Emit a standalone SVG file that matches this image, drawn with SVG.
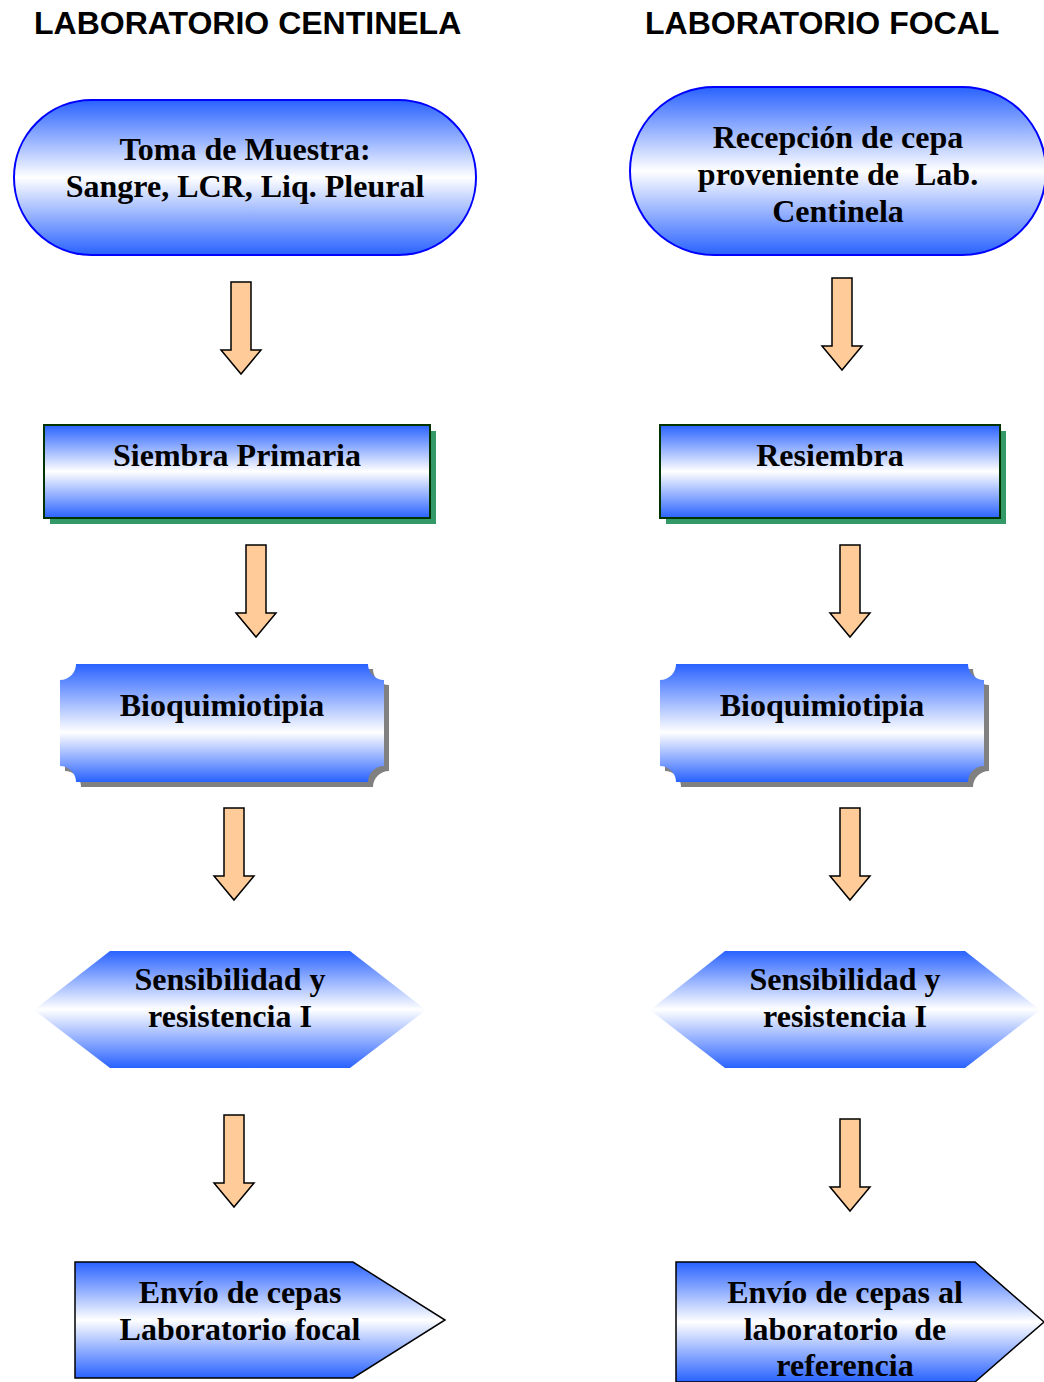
<svg xmlns="http://www.w3.org/2000/svg" xmlns:xlink="http://www.w3.org/1999/xlink" width="1044" height="1382" viewBox="0 0 1044 1382">
<style>
.title{font-family:"Liberation Sans",Arial,sans-serif;font-weight:bold;font-size:32px;fill:#000}
.lbl{font-family:"Liberation Serif","Times New Roman",serif;font-weight:bold;font-size:32px;fill:#000;text-anchor:middle;white-space:pre}
.arrow{fill:#ffcc99;stroke:#000;stroke-width:1.5}
</style>
<defs>
<linearGradient id="g" x1="0" y1="0" x2="0" y2="1">
<stop offset="0" stop-color="#2962ff"/>
<stop offset="0.5" stop-color="#ffffff"/>
<stop offset="1" stop-color="#2962ff"/>
</linearGradient>
<linearGradient id="g2" x1="0" y1="0" x2="0" y2="1">
<stop offset="0" stop-color="#2962ff"/>
<stop offset="0.58" stop-color="#ffffff"/>
<stop offset="1" stop-color="#2962ff"/>
</linearGradient>
<path id="arr" class="arrow" d="M-10,0 H10 V68 H20 L0,92 L-20,68 H-10 Z"/>
<path id="bq" d="M16,0 H308 A16 16 0 0 0 324,16 V102 A16 16 0 0 0 308,118 H16 A16 16 0 0 0 0,102 V16 A16 16 0 0 0 16,0 Z"/>
</defs>
<rect width="1044" height="1382" fill="#fff"/>
<text class="title" x="34" y="34">LABORATORIO CENTINELA</text>
<text class="title" x="645" y="34">LABORATORIO FOCAL</text>

<g id="connectors">
<use xlink:href="#arr" x="241" y="282"/>
<use xlink:href="#arr" x="256" y="545"/>
<use xlink:href="#arr" x="234" y="808"/>
<use xlink:href="#arr" x="234" y="1115"/>
<use xlink:href="#arr" x="842" y="278"/>
<use xlink:href="#arr" x="850" y="545"/>
<use xlink:href="#arr" x="850" y="808"/>
<use xlink:href="#arr" x="850" y="1119"/>
</g>

<g id="toma">
<rect x="14" y="100" width="462" height="155" rx="77.5" fill="url(#g)" stroke="#0000ff" stroke-width="2"/>
<text class="lbl" x="245" y="160">Toma de Muestra:</text>
<text class="lbl" x="245" y="197">Sangre, LCR, Liq. Pleural</text>
</g>
<g id="siembra">
<rect x="50" y="431" width="386" height="93" fill="#339966"/>
<rect x="44" y="425" width="386" height="93" fill="url(#g)" stroke="#003300" stroke-width="2"/>
<text class="lbl" x="237" y="466">Siembra Primaria</text>
</g>
<g id="bioq1">
<use xlink:href="#bq" x="65" y="669" fill="#808080"/>
<use xlink:href="#bq" x="60" y="664" fill="url(#g2)"/>
<text class="lbl" x="222" y="716">Bioquimiotipia</text>
</g>
<g id="sens1">
<polygon points="34,1010 110,951 350,951 426,1010 350,1068 110,1068" fill="url(#g)"/>
<text class="lbl" x="230" y="990">Sensibilidad y</text>
<text class="lbl" x="230" y="1027">resistencia I</text>
</g>
<g id="envio1">
<polygon points="75,1262 353,1262 445,1320 353,1378 75,1378" fill="url(#g)" stroke="#000" stroke-width="1.5"/>
<text class="lbl" x="240" y="1303">Envío de cepas</text>
<text class="lbl" x="240" y="1340">Laboratorio focal</text>
</g>

<g id="recepcion">
<rect x="630" y="87" width="416" height="168" rx="84" fill="url(#g)" stroke="#0000ff" stroke-width="2"/>
<text class="lbl" x="838" y="148">Recepción de cepa</text>
<text class="lbl" x="838" y="185">proveniente de  Lab.</text>
<text class="lbl" x="838" y="222">Centinela</text>
</g>
<g id="resiembra">
<rect x="666" y="431" width="340" height="93" fill="#339966"/>
<rect x="660" y="425" width="340" height="93" fill="url(#g)" stroke="#003300" stroke-width="2"/>
<text class="lbl" x="830" y="466">Resiembra</text>
</g>
<g id="bioq2">
<use xlink:href="#bq" x="665" y="669" fill="#808080"/>
<use xlink:href="#bq" x="660" y="664" fill="url(#g2)"/>
<text class="lbl" x="822" y="716">Bioquimiotipia</text>
</g>
<g id="sens2">
<polygon points="650,1010 725,951 965,951 1040,1010 965,1068 725,1068" fill="url(#g)"/>
<text class="lbl" x="845" y="990">Sensibilidad y</text>
<text class="lbl" x="845" y="1027">resistencia I</text>
</g>
<g id="envio2">
<polygon points="676,1262 975,1262 1044,1322 975,1382 676,1382" fill="url(#g)" stroke="#000" stroke-width="1.5"/>
<text class="lbl" x="845" y="1303">Envío de cepas al</text>
<text class="lbl" x="845" y="1340">laboratorio  de</text>
<text class="lbl" x="845" y="1376">referencia</text>
</g>
</svg>
